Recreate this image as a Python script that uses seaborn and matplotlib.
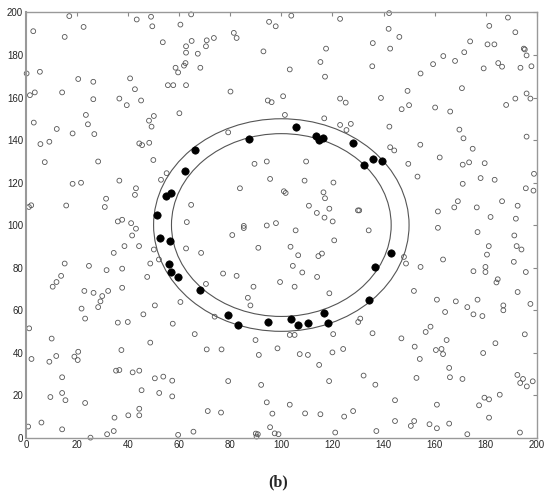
import numpy as np
import pandas as pd
import matplotlib
matplotlib.use('Agg')
import matplotlib.pyplot as plt
import seaborn as sns
from matplotlib.patches import Circle

# open circles: all points (x, y)
open_x = [
    17.0, 2.9, 22.6, 15.2, 43.4, 49.0, 49.5, 53.6, 60.5, 64.7, 64.9, 62.7, 62.7, 67.3,
    0.3, 5.5, 20.5, 26.4, 40.8, 58.6, 59.6, 61.9, 62.5, 55.6, 57.7, 62.7, 42.7, 1.6,
    3.5, 14.2, 26.4, 36.6, 39.5, 45.1, 60.1, 23.5, 24.3, 3.1, 50.1, 48.2, 49.2, 12.1,
    18.3, 26.8, 5.7, 9.2, 44.4, 45.5, 48.3,
    103.9, 123.0, 95.2, 97.8, 81.4, 82.5, 73.6, 70.8, 70.5, 68.3, 93.0, 117.5, 115.3,
    103.3, 117.1, 80.1, 100.7, 94.7, 96.2, 123.0, 125.2, 101.4, 116.8, 123.0, 127.2,
    125.5, 79.2,
    142.2, 142.0, 146.2, 135.8, 142.6, 188.7, 181.4, 191.6, 173.9, 180.7, 183.4, 194.9,
    195.3, 196.0, 171.6, 163.4, 159.4, 168.0, 135.6, 154.5, 179.2, 184.9, 186.4, 193.6,
    197.9, 170.7, 149.4, 139.0, 147.1, 150.0, 160.2, 166.1, 188.0, 191.6, 196.0, 197.5,
    142.3, 169.7, 171.3, 154.4, 142.6, 144.2, 174.9, 196.0,
    7.4, 28.3, 49.9, 55.1, 52.9, 18.3, 21.6, 36.6, 43.1, 42.7, 31.4, 30.9, 2.1, 1.2,
    15.8, 64.7, 63.0, 36.0, 37.7, 41.2, 43.1, 41.6, 38.6, 44.3, 34.4, 50.1, 62.7, 52.1,
    48.7, 15.2, 24.7, 31.6, 37.7, 13.8, 47.5, 12.0, 10.5, 37.7, 22.9, 26.5, 32.2, 29.9,
    89.5, 94.3, 109.7, 95.6, 109.1, 120.4, 83.8, 101.0, 101.7, 116.5, 117.1, 110.8,
    118.8, 113.9, 116.9, 120.1, 130.0, 130.5, 85.3, 85.3, 94.3, 97.9, 105.6, 80.8,
    120.7, 68.6, 91.0, 103.6, 106.6, 114.5, 115.9, 104.5, 108.2, 114.0, 77.2, 82.5,
    70.5, 99.5, 89.1, 105.2, 118.8, 86.9,
    162.0, 149.7, 171.0, 173.5, 179.6, 153.3, 178.0, 183.5, 171.0, 198.9, 195.7, 198.7,
    169.1, 167.7, 176.5, 186.4, 192.5, 161.3, 181.9, 191.8, 134.2, 161.3, 176.8, 191.2,
    181.2, 192.1, 194.0, 180.5, 148.0, 148.8, 154.5, 163.3, 191.0, 179.9, 179.9, 175.2,
    195.7, 184.7, 184.2, 151.9, 192.5,
    29.2, 28.3, 21.8, 23.2, 50.5, 46.0, 60.5, 36.0, 39.9, 57.5, 1.3, 66.1, 10.1, 48.7,
    37.4, 20.5, 2.2, 11.9, 19.0, 20.3, 9.2, 35.3, 36.6, 41.8, 44.4, 14.2, 50.5, 53.8,
    57.3, 45.3, 14.2, 52.2, 9.6, 15.5, 57.3, 23.2, 44.4, 34.7, 40.1, 44.4, 0.9, 6.1,
    14.2, 34.4, 31.8, 25.3, 59.6, 65.6,
    87.9, 73.9, 130.9, 130.1, 103.3, 105.2, 120.3, 89.9, 70.8, 76.6, 98.5, 124.2, 120.0,
    91.2, 107.2, 110.4, 114.8, 132.2, 79.2, 118.7, 92.1, 94.3, 103.3, 71.2, 76.4, 96.5,
    109.3, 115.3, 128.1, 124.6, 95.6, 121.1, 90.0, 90.8, 90.3, 97.4, 98.9,
    160.9, 168.3, 176.8, 172.8, 175.2, 178.7, 164.1, 186.9, 186.9, 197.5, 135.7, 156.5,
    158.4, 147.0, 164.7, 183.8, 195.3, 152.2, 160.5, 162.7, 163.3, 179.0, 154.2, 165.7,
    166.0, 170.9, 152.9, 136.8, 192.4, 194.6, 193.5, 196.1, 198.4, 144.5, 160.9, 179.5,
    181.3, 185.5, 177.4, 181.3, 144.5, 152.0, 150.7, 158.0, 160.9, 165.7, 137.2, 172.8,
    193.4,
]
open_y = [
    198.3, 191.2, 193.2, 188.5, 196.7, 198.0, 193.5, 186.0, 194.3, 199.1, 186.6, 184.1, 181.1, 180.6,
    171.3, 172.1, 168.7, 167.4, 169.0, 174.0, 171.8, 175.0, 176.2, 165.8, 165.8, 165.8, 163.9, 161.1,
    162.4, 162.4, 159.2, 159.5, 156.4, 158.6, 152.6, 151.8, 147.4, 148.2, 151.3, 149.1, 146.3, 145.2,
    143.1, 142.8, 138.1, 139.2, 138.4, 137.6, 138.7,
    198.5, 197.0, 195.6, 193.5, 190.4, 188.0, 188.0, 186.9, 184.1, 174.0, 181.7, 183.0, 176.7,
    173.2, 169.8, 162.8, 160.6, 158.6, 157.8, 159.5, 157.6, 151.8, 150.2, 147.1, 147.6,
    144.7, 143.6,
    199.7, 192.3, 188.5, 185.6, 183.0, 197.6, 193.7, 190.7, 186.4, 185.0, 185.0, 183.0,
    182.6, 179.8, 181.3, 179.5, 175.7, 177.2, 174.7, 171.3, 173.7, 176.2, 174.5, 174.0,
    174.7, 164.4, 163.1, 159.8, 154.5, 156.4, 155.3, 153.4, 156.5, 159.5, 161.9, 159.5,
    146.3, 144.9, 140.8, 137.8, 136.6, 135.1, 135.9, 141.6,
    129.6, 129.9, 130.6, 124.4, 121.3, 119.4, 119.9, 120.9, 117.3, 114.2, 112.4, 108.5, 109.3, 108.5,
    109.2, 109.5, 101.4, 101.7, 102.5, 100.9, 98.3, 95.1, 90.1, 90.1, 86.9, 88.5, 89.0, 83.8,
    81.9, 81.9, 80.8, 78.8, 79.5, 76.1, 75.6, 73.2, 71.0, 70.5, 69.0, 68.1, 69.0, 66.6,
    128.8, 129.9, 129.9, 121.7, 120.9, 120.0, 117.3, 115.9, 115.1, 115.4, 112.6, 109.1,
    107.7, 105.7, 103.5, 101.7, 106.9, 106.9, 99.6, 98.6, 99.8, 100.9, 97.5, 95.3,
    92.8, 86.9, 89.3, 89.8, 85.8, 85.4, 86.6, 80.8, 77.7, 75.6, 77.2, 76.1,
    72.3, 73.2, 71.0, 71.0, 67.9, 65.8,
    131.8, 128.8, 128.4, 129.5, 129.1, 122.8, 122.1, 121.3, 119.4, 124.1, 117.3, 116.2,
    111.2, 108.3, 108.3, 111.2, 109.1, 106.4, 103.8, 103.0, 97.5, 98.7, 96.7, 95.1,
    90.1, 90.1, 88.5, 86.1, 85.0, 81.9, 80.3, 83.8, 82.7, 80.3, 77.9, 78.3,
    77.9, 74.5, 73.0, 69.0, 68.5,
    64.1, 61.4, 60.7, 56.0, 62.2, 58.0, 63.8, 54.1, 54.4, 53.6, 51.4, 48.7, 46.6, 44.7,
    41.2, 40.4, 37.0, 38.4, 38.1, 36.5, 35.7, 31.5, 31.8, 30.7, 31.5, 28.4, 27.9, 28.7,
    26.8, 22.3, 21.0, 21.0, 19.1, 17.6, 19.4, 16.3, 13.6, 9.4, 10.5, 10.5, 5.2, 7.1,
    3.9, 3.1, 1.6, 0.0, 1.3, 2.8,
    62.2, 56.9, 56.0, 54.4, 48.3, 48.3, 48.7, 45.9, 41.5, 41.5, 42.0, 41.7, 40.1,
    38.9, 39.3, 38.9, 34.2, 29.2, 26.6, 26.6, 24.8, 16.6, 15.5, 12.5, 11.8, 11.3,
    11.4, 11.0, 12.5, 9.9, 4.9, 2.4, 1.9, 1.6, 0.5, 2.0, 1.6,
    64.9, 64.1, 64.9, 61.4, 58.0, 57.2, 59.1, 62.2, 59.9, 62.9, 49.1, 49.7,
    52.2, 46.7, 45.9, 44.4, 48.6, 42.8, 41.2, 41.7, 39.3, 39.8, 37.0, 32.8,
    28.4, 27.6, 28.1, 24.9, 29.5, 27.6, 25.7, 24.1, 26.5, 17.6, 15.5, 18.8,
    18.0, 20.2, 15.2, 9.4, 7.8, 7.8, 5.5, 6.3, 4.4, 6.6, 3.1, 1.6,
    2.4,
]

# filled dots lying on the ring
filled_x = [66.2, 105.9, 87.3, 113.6, 114.9, 116.5, 128.1,
            62.3, 57.0, 54.7, 51.2, 52.7, 56.4, 56.0, 57.0, 59.6, 68.3,
            132.5, 135.8, 139.4, 142.9, 136.5, 134.2,
            79.2, 83.1, 94.6, 103.9, 106.5, 110.3, 116.8, 118.2]
filled_y = [135.4, 146.3, 140.5, 142.0, 140.0, 140.8, 138.4,
            125.2, 115.1, 113.5, 104.6, 93.7, 92.7, 81.6, 78.1, 75.7, 69.3,
            128.4, 131.0, 129.9, 86.9, 80.3, 64.9,
            57.5, 52.9, 54.5, 56.0, 53.0, 54.1, 58.8, 54.1]

ring_center = (100, 100)
ring_radii = [50, 43]
ticks = [0, 20, 40, 60, 80, 100, 120, 140, 160, 180, 200]

df_open = pd.DataFrame({'x': open_x, 'y': open_y})
df_fill = pd.DataFrame({'x': filled_x, 'y': filled_y})

sns.set_style('white')
plt.rcParams['font.family'] = ['Liberation Sans', 'DejaVu Sans']

fig = plt.figure(figsize=(5.5, 4.99), dpi=100)
ax = fig.add_axes([0.047, 0.123, 0.929, 0.852])

sns.scatterplot(data=df_open, x='x', y='y', ax=ax, marker='o', s=12,
                facecolor='none', edgecolor='#555555', linewidth=0.6, clip_on=False)
sns.scatterplot(data=df_fill, x='x', y='y', ax=ax, marker='o', s=28,
                color='black', edgecolor='black', linewidth=0.5, clip_on=False, zorder=3)

for r in ring_radii:
    ax.add_patch(Circle(ring_center, r, fill=False, edgecolor='#555555', linewidth=0.8))

ax.set_xlim(0, 200)
ax.set_ylim(0, 200)
ax.set_xticks(ticks)
ax.set_yticks(ticks)
ax.set_xlabel('')
ax.set_ylabel('')
ax.tick_params(direction='in', length=3, width=0.8, color='#888888', labelsize=7,
               top=True, right=True, pad=2)
for side, sp in ax.spines.items():
    sp.set_color('#999999')
    sp.set_linewidth(1.5 if side == 'left' else 1.0)

fig.text(0.505, 1 - 482 / 499, '(b)', ha='center', va='center', fontsize=11.5,
         fontweight='bold', family='Liberation Serif')

plt.savefig('out.png', dpi=100)
